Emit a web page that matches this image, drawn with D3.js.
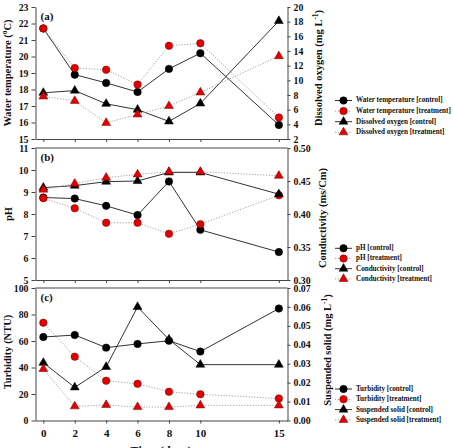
<!DOCTYPE html>
<html>
<head>
<meta charset="utf-8">
<script src="https://cdn.jsdelivr.net/npm/d3@7"></script>
<style>
  body { margin: 0; background: #fff; }
  svg text { font-family: "Liberation Serif", "Times New Roman", serif; font-weight: bold; }
</style>
</head>
<body>
<div id="chart"></div>
<script>
// data
var days = [0, 2, 4, 6, 8, 10, 15]
var dayTicks = [0, 2, 4, 6, 8, 10, 15]

var tempControl = [21.7, 18.9, 18.4, 17.85, 19.25, 20.2, 15.85]
var tempTreatment = [21.7, 19.3, 19.2, 18.3, 20.65, 20.8, 16.3]
var doControl = [8.3, 8.6, 6.8, 6.0, 4.4, 6.85, 18.1]
var doTreatment = [7.8, 7.2, 4.2, 5.35, 6.5, 8.35, 13.3]

var phControl = [8.75, 8.7, 8.37, 7.95, 9.48, 7.28, 6.27]
var phTreatment = [8.72, 8.26, 7.6, 7.6, 7.1, 7.54, 8.85]
var condControl = [0.44, 0.443, 0.449, 0.45, 0.463, 0.463, 0.43]
var condTreatment = [0.437, 0.446, 0.455, 0.46, 0.464, 0.464, 0.458]

var turbControl = [63, 64.5, 55, 57.8, 60.2, 52, 84.5]
var turbTreatment = [73.8, 48.2, 30, 27.7, 21.7, 19.8, 16.6]
var ssControl = [0.0305, 0.0175, 0.0283, 0.06, 0.0428, 0.0295, 0.0295]
var ssTreatment = [0.0272, 0.0075, 0.0082, 0.0071, 0.0071, 0.008, 0.008]

var tempTicks = [15, 16, 17, 18, 19, 20, 21, 22, 23]
var doTicks = [2, 4, 6, 8, 10, 12, 14, 16, 18, 20]
var phTicks = [5, 6, 7, 8, 9, 10, 11]
var condTicks = [0.30, 0.35, 0.40, 0.45, 0.50]
var turbTicks = [0, 20, 40, 60, 80, 100]
var ssTicks = [0.00, 0.01, 0.02, 0.03, 0.04, 0.05, 0.06, 0.07]

var W = 453, H = 448
var left = 35.5, right = 287.5
var axisColor = "#444"
var red = "#e30000"

var svg = d3.select("#chart").append("svg")
    .attr("width", W)
    .attr("height", H)

var x = d3.scaleLinear().domain([-0.5, 15.55]).range([left, right])

var panels = [
    {
        label: "(a)", top: 7, bottom: 139,
        yL: [15, 23], yLTicks: tempTicks, yLFmt: d3.format("d"),
        yR: [2, 20], yRTicks: doTicks, yRFmt: d3.format("d"),
        titleL: ["Water temperature (", "o", "C)"], titleLx: 9, titleLy: 73,
        titleR: ["Dissolved oxygen (mg L", "-1", ")"], titleRx: 320, titleRy: 68,
        series: [
            {name: "Water temperature [control]", v: tempControl, axis: "L", shape: "circle", color: "black"},
            {name: "Water temperature [treatment]", v: tempTreatment, axis: "L", shape: "circle", color: red},
            {name: "Dissolved oxygen [control]", v: doControl, axis: "R", shape: "tri", color: "black"},
            {name: "Dissolved oxygen [treatment]", v: doTreatment, axis: "R", shape: "tri", color: red}
        ],
        legendY: 100.5, legendStep: 10.6, hasTop: false
    },
    {
        label: "(b)", top: 148, bottom: 280,
        yL: [5, 11], yLTicks: phTicks, yLFmt: d3.format("d"),
        yR: [0.30, 0.50], yRTicks: condTicks, yRFmt: d3.format(".2f"),
        titleL: ["pH", "", ""], titleLx: 10, titleLy: 214,
        titleR: ["Conductivity (ms/Cm)", "", ""], titleRx: 324, titleRy: 218,
        series: [
            {name: "pH [control]", v: phControl, axis: "L", shape: "circle", color: "black"},
            {name: "pH [treatment]", v: phTreatment, axis: "L", shape: "circle", color: red},
            {name: "Conductivity [control]", v: condControl, axis: "R", shape: "tri", color: "black"},
            {name: "Conductivity [treatment]", v: condTreatment, axis: "R", shape: "tri", color: red}
        ],
        legendY: 248.3, legendStep: 10.2, hasTop: true
    },
    {
        label: "(c)", top: 288, bottom: 420.5,
        yL: [0, 100], yLTicks: turbTicks, yLFmt: d3.format("d"),
        yR: [0, 0.07], yRTicks: ssTicks, yRFmt: d3.format(".2f"),
        titleL: ["Turbidity (NTU)", "", ""], titleLx: 9, titleLy: 352,
        titleR: ["Suspended solid (mg L", "-1", ")"], titleRx: 329, titleRy: 350,
        series: [
            {name: "Turbidity [control]", v: turbControl, axis: "L", shape: "circle", color: "black"},
            {name: "Turbidity [treatment]", v: turbTreatment, axis: "L", shape: "circle", color: red},
            {name: "Suspended solid [control]", v: ssControl, axis: "R", shape: "tri", color: "black"},
            {name: "Suspended solid [treatment]", v: ssTreatment, axis: "R", shape: "tri", color: red}
        ],
        legendY: 389, legendStep: 10.3, hasTop: true
    }
]

function symbolFor(shape) {
    if (shape == "circle") return d3.symbol().type(d3.symbolCircle).size(44)
    return d3.symbol().type(d3.symbolTriangle).size(34)
}

function lineStyle(sel, color) {
    if (color == "black") {
        sel.attr("stroke", "#333").attr("stroke-width", 1)
    } else {
        sel.attr("stroke", "#999").attr("stroke-width", 0.9).attr("stroke-dasharray", "1.2,1.6")
    }
}

function addTitle(g, parts, tx, ty, size) {
    var t = g.append("text")
        .attr("transform", "translate(" + tx + "," + ty + ") rotate(-90)")
        .attr("text-anchor", "middle")
        .attr("dominant-baseline", "middle")
        .attr("font-size", size)
        .attr("fill", "#111")
    t.append("tspan").text(parts[0])
    if (parts[1]) {
        t.append("tspan").attr("font-size", size * 0.7).attr("dy", -4).text(parts[1])
        t.append("tspan").attr("dy", 4).text(parts[2])
    }
}

var legendTexts = []

panels.forEach(function(p, pi) {
    var yL = d3.scaleLinear().domain(p.yL).range([p.bottom, p.top])
    var yR = d3.scaleLinear().domain(p.yR).range([p.bottom, p.top])
    var g = svg.append("g")

    // axes
    var axL = g.append("g").attr("transform", "translate(" + left + ",0)")
        .call(d3.axisLeft(yL).tickValues(p.yLTicks).tickFormat(p.yLFmt).tickSize(4).tickSizeOuter(0).tickPadding(3))
    var axR = g.append("g").attr("transform", "translate(" + right + ",0)")
        .call(d3.axisRight(yR).tickValues(p.yRTicks).tickFormat(p.yRFmt).tickSize(3).tickSizeOuter(0).tickPadding(3))
    var axB = g.append("g").attr("transform", "translate(0," + p.bottom + ")")
        .call(d3.axisBottom(x).tickValues(dayTicks).tickSize(3).tickSizeOuter(0).tickPadding(6)
            .tickFormat(pi == 2 ? d3.format("d") : function() { return "" }))
    ;[axL, axR, axB].forEach(function(a) {
        a.selectAll("path, line").attr("stroke", axisColor)
        a.selectAll("text").attr("font-size", 9.8).attr("fill", "#111")
            .style("font-family", "Liberation Serif").style("font-weight", "bold")
    })
    axB.selectAll("text").attr("font-size", 11)
    if (p.hasTop) {
        g.append("line").attr("x1", left).attr("x2", right)
            .attr("y1", p.top).attr("y2", p.top).attr("stroke", axisColor)
    }

    g.append("text").attr("x", left + 5).attr("y", p.top + 13)
        .attr("font-size", 11).attr("fill", "#111").text(p.label)

    addTitle(g, p.titleL, p.titleLx, p.titleLy, 10.5)
    addTitle(g, p.titleR, p.titleRx, p.titleRy, 10.5)

    // lines first, markers after
    p.series.forEach(function(s) {
        var ys = s.axis == "L" ? yL : yR
        var line = d3.line().x(function(d, i) { return x(days[i]) }).y(function(d) { return ys(d) })
        g.append("path").datum(s.v).attr("d", line).attr("fill", "none").call(lineStyle, s.color)
    })
    p.series.forEach(function(s) {
        var ys = s.axis == "L" ? yL : yR
        g.selectAll(null).data(s.v).enter().append("path")
            .attr("d", symbolFor(s.shape))
            .attr("transform", function(d, i) { return "translate(" + x(days[i]) + "," + ys(d) + ")" })
            .attr("fill", s.color)
            .attr("stroke", s.color == "black" ? "#000" : "#700")
            .attr("stroke-width", 0.5)
    })

    // legend
    var lg = g.append("g")
    p.series.forEach(function(s, i) {
        var ly = p.legendY + i * p.legendStep
        lg.append("line").attr("x1", 335).attr("x2", 352).attr("y1", ly).attr("y2", ly).call(lineStyle, s.color)
        lg.append("path").attr("d", symbolFor(s.shape))
            .attr("transform", "translate(343.5," + ly + ")")
            .attr("fill", s.color)
            .attr("stroke", s.color == "black" ? "#000" : "#700")
            .attr("stroke-width", 0.5)
        var t = lg.append("text").attr("x", 0).attr("y", 0).attr("dominant-baseline", "middle")
            .attr("font-size", 8.3).attr("fill", "#111").text(s.name)
        legendTexts.push({el: t, y: ly})
    })
})

// the legend lettering in the figure is wide; stretch it to the same width
var widest = legendTexts[1].el.node().getComputedTextLength()
var k = 95 / widest
legendTexts.forEach(function(d) {
    d.el.attr("transform", "translate(356," + d.y + ") scale(" + k + ",1)")
})

svg.append("text").attr("x", 161).attr("y", 455).attr("text-anchor", "middle")
    .attr("font-size", 12).attr("fill", "#111").text("Time (days)")
</script>
</body>
</html>
